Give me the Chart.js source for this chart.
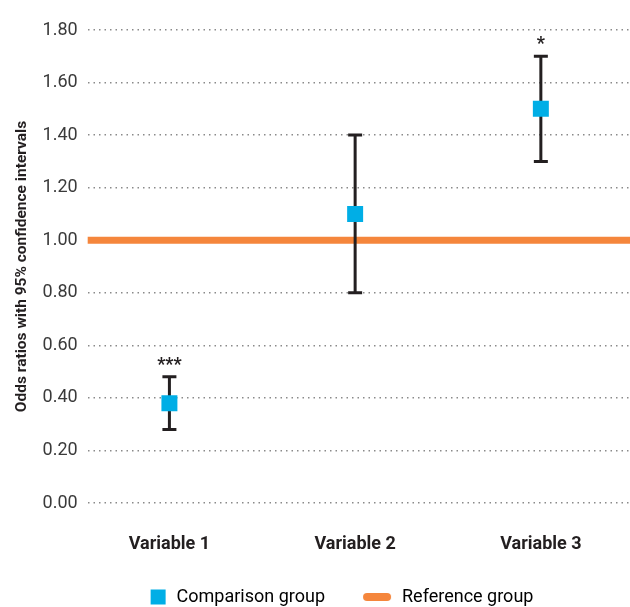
<!DOCTYPE html>
<html>
<head>
<meta charset="utf-8">
<script src="https://cdn.jsdelivr.net/npm/chart.js@4.4.1/dist/chart.umd.min.js"></script>
<style>
  html, body { margin: 0; padding: 0; background: #fff; }
  #wrap { width: 630px; height: 607px; }
</style>
</head>
<body>
<div id="wrap"><canvas id="oddsChart"></canvas></div>
<script>
// data
const variables = ['Variable 1', 'Variable 2', 'Variable 3'];
const oddsRatios = [0.38, 1.10, 1.50];
const ciLower = [0.28, 0.80, 1.30];
const ciUpper = [0.48, 1.40, 1.70];
const significance = ['***', '', '*'];
const referenceValue = 1.00;
const yTicks = [0, 0.2, 0.4, 0.6, 0.8, 1.0, 1.2, 1.4, 1.6, 1.8];

const BLUE = '#00aee6';
const ORANGE = '#f5863c';
const BAR = '#231f20';
const FONT = 'Roboto, "Noto Sans", sans-serif';

// legend swatches, same box width, mark drawn at the right end
const SW = 58;
const compSwatch = document.createElement('canvas');
compSwatch.width = SW;
compSwatch.height = 16;
(function () {
  const c = compSwatch.getContext('2d');
  c.fillStyle = BLUE;
  c.fillRect(SW - 17, 0.5, 15, 15);
})();

const refSwatch = document.createElement('canvas');
refSwatch.width = SW;
refSwatch.height = 10;
(function () {
  const c = refSwatch.getContext('2d');
  c.strokeStyle = ORANGE;
  c.lineWidth = 8;
  c.lineCap = 'round';
  c.beginPath();
  c.moveTo(SW - 26, 5);
  c.lineTo(SW - 6, 5);
  c.stroke();
})();

// error bars + stars, drawn with the chart's own scales
const errorBars = {
  id: 'errorBars',
  beforeDatasetDraw(chart, args) {
    if (args.index !== 0) return;
    const { ctx, scales: { x, y } } = chart;
    ctx.save();
    ctx.strokeStyle = BAR;
    ctx.lineWidth = 3;
    variables.forEach((v, i) => {
      const px = x.getPixelForValue(i + 1);
      const top = y.getPixelForValue(ciUpper[i]);
      const bot = y.getPixelForValue(ciLower[i]);
      ctx.beginPath();
      ctx.moveTo(px, top);
      ctx.lineTo(px, bot);
      ctx.moveTo(px - 7, top);
      ctx.lineTo(px + 7, top);
      ctx.moveTo(px - 7, bot);
      ctx.lineTo(px + 7, bot);
      ctx.stroke();
    });
    ctx.restore();
  },
  afterDatasetsDraw(chart) {
    const { ctx, scales: { x, y } } = chart;
    ctx.save();
    ctx.fillStyle = BAR;
    ctx.font = 'bold 18px ' + FONT;
    ctx.textAlign = 'center';
    ctx.textBaseline = 'alphabetic';
    significance.forEach((s, i) => {
      if (!s) return;
      const px = x.getPixelForValue(i + 1);
      const top = y.getPixelForValue(ciUpper[i]);
      ctx.fillText(s, px, top - 7);
    });
    ctx.restore();
  }
};

const ctx = document.getElementById('oddsChart').getContext('2d');
new Chart(ctx, {
  type: 'scatter',
  data: {
    datasets: [
      {
        label: 'Comparison group',
        data: oddsRatios.map((v, i) => ({ x: i + 1, y: v })),
        pointStyle: 'rect',
        pointRadius: 11.3,
        pointHoverRadius: 11.3,
        backgroundColor: BLUE,
        borderColor: BLUE,
        borderWidth: 0,
        order: 1
      },
      {
        label: 'Reference group',
        type: 'line',
        data: [{ x: 0.5, y: referenceValue }, { x: 3.5, y: referenceValue }],
        showLine: true,
        borderColor: ORANGE,
        backgroundColor: ORANGE,
        borderWidth: 7,
        pointRadius: 0,
        fill: false,
        order: 2
      }
    ]
  },
  plugins: [errorBars],
  options: {
    responsive: true,
    maintainAspectRatio: false,
    animation: false,
    layout: { autoPadding: false, padding: { top: 30, right: 0, left: 13, bottom: -9 } },
    scales: {
      x: {
        type: 'linear',
        min: 0.56,
        max: 3.48,
        afterBuildTicks(axis) {
          axis.ticks = variables.map((v, i) => ({ value: i + 1 }));
        },
        afterFit(axis) {
          axis.height = 75;
        },
        grid: { display: false, drawTicks: false },
        border: { display: false },
        ticks: {
          padding: 31,
          color: '#231f20',
          font: { family: FONT, size: 18, weight: 'bold' },
          callback: (val) => variables[Math.round(val) - 1]
        }
      },
      y: {
        min: 0,
        max: 1.8,
        afterBuildTicks(axis) {
          axis.ticks = yTicks.map(v => ({ value: v }));
        },
        grid: {
          color: '#8a8a8a',
          lineWidth: 1.5,
          drawTicks: false
        },
        border: { display: false, dash: [1.5, 4] },
        ticks: {
          padding: 10,
          color: '#3a3a3a',
          font: { family: FONT, size: 18 },
          callback: (v) => Number(v).toFixed(2)
        },
        title: {
          display: true,
          text: 'Odds ratios with 95% confidence intervals',
          color: '#231f20',
          font: { family: FONT, size: 15.5, weight: 'bold' },
          padding: { top: 0, bottom: 1 }
        }
      }
    },
    plugins: {
      tooltip: { enabled: false },
      legend: {
        position: 'bottom',
        labels: {
          usePointStyle: true,
          pointStyleWidth: SW,
          boxHeight: 16,
          padding: 10,
          color: '#3a3a3a',
          font: { family: FONT, size: 18 },
          generateLabels() {
            return [
              { text: 'Comparison group', pointStyle: compSwatch, fillStyle: BLUE, strokeStyle: BLUE, lineWidth: 0, datasetIndex: 0 },
              { text: 'Reference group', pointStyle: refSwatch, fillStyle: ORANGE, strokeStyle: ORANGE, lineWidth: 0, datasetIndex: 1 }
            ];
          }
        }
      }
    }
  }
});
</script>
</body>
</html>
